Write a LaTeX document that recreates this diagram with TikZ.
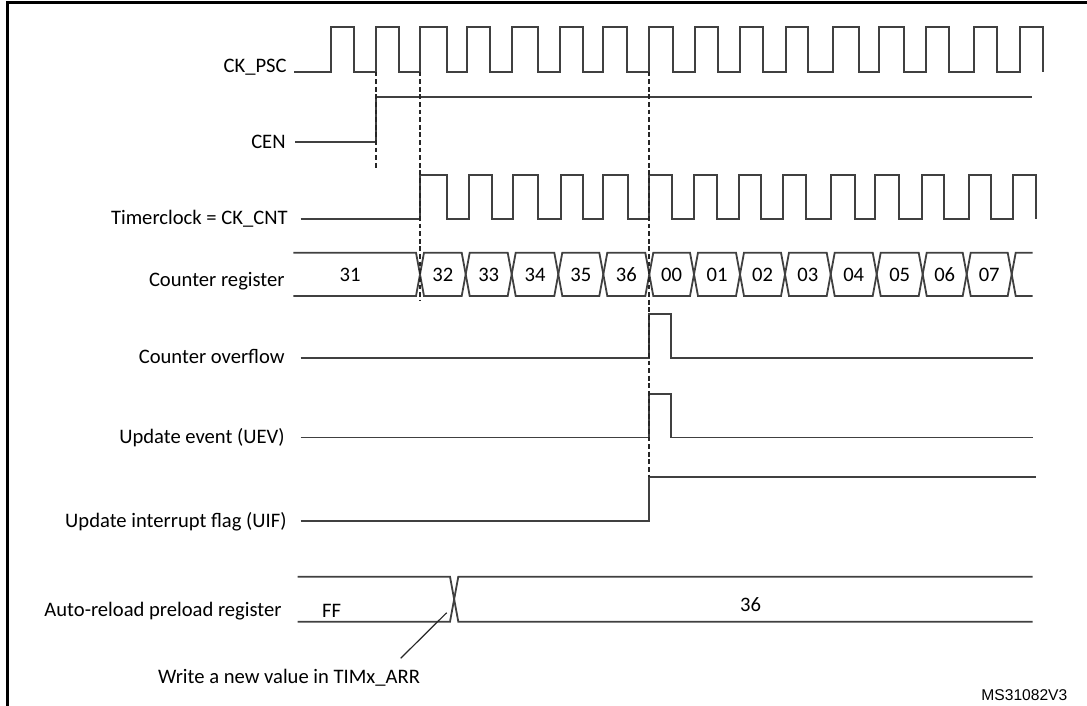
\documentclass[tikz,border=0pt]{standalone}
\usepackage{fontspec}
\setmainfont{Carlito}
\newfontfamily\arialfont{Liberation Sans}
\usetikzlibrary{positioning}

\begin{document}
\begin{tikzpicture}[x=0.5pt, y=-0.5pt,
        sig/.style={draw=black!75, line width=0.9pt},
        lbl/.style={anchor=base east, inner sep=0pt, font=\fontsize{10.3}{12}\selectfont},
        val/.style={anchor=base, inner sep=0pt, font=\fontsize{10.3}{12}\selectfont},
        guide/.style={draw=black!85, line width=1pt, dash pattern=on 2.4pt off 1.4pt}]
    \useasboundingbox (0,0) rectangle (1087,706);
    \draw[line width=1.5pt] (7,706) -- (7,3) -- (1087,3);

    \node[lbl] (ckpsc) at (287,72.7) {CK\_PSC};
    \node[lbl] (cen) at (286,148.3) {CEN};
    \node[lbl] (ckcnt) at (288,224.5) {Timerclock = CK\_CNT};
    \node[lbl] (cntreg) at (285,286.7) {Counter register};
    \node[lbl] (ovf) at (285,363.3) {Counter overflow};
    \node[lbl] (uev) at (285,443.3) {Update event (UEV)};
    \node[lbl] (uif) at (287,527) {Update interrupt flag (UIF)};
    \node[lbl] (arr) at (282,616.7) {Auto-reload preload register};

    % prescaler clock
    \draw[sig] (294,71.7) \foreach \r/\f in {330.7/354, 376/399, 420/446.7, 466.7/490, 511.7/538.3, 560/583.3, 602.7/627.3, 649.3/672.7, 695/718.3, 740/763.3, 785.7/808.3, 833.3/859, 879.3/904.3, 926/949.3, 974.3/997.3, 1020/1042.7} { -- (\r,71.7) -- (\r,27.3) -- (\f,27.3) -- (\f,71.7)};
    \draw[sig] (295,141.7) -- (375.7,141.7) -- (375.7,96.7) -- (1031.7,96.7);

    % counter clock
    \draw[sig] (300.7,219) \foreach \r/\f in {420/446.7, 469.3/491.7, 513.3/538.3, 560.7/583.3, 602.7/628.3, 649.3/671.7, 694.3/716.7, 739/760.7, 783.3/805.7, 830.7/855, 875/899.3, 921.7/944, 969.3/991, 1012.7/1035.7} { -- (\r,219) -- (\r,175) -- (\f,175) -- (\f,219)};

    % counter register
    \draw[sig] (293.3,252.7) -- (416,252.7) -- (420,274.3) -- (416,296) -- (293.3,296);
    \node[val] (cnt31) at (350,281.7) {31};
    \foreach \a/\b/\v in {420/465.7/32, 465.7/511.7/33, 511.7/558.3/34, 558.3/603.3/35, 603.3/649.3/36, 649.3/694/00, 694/740/01, 740/785/02, 785/830.7/03, 830.7/876.7/04, 876.7/922.7/05, 922.7/966.7/06, 966.7/1011.7/07} {
        \draw[sig] (\a,274.3) -- (\a+4,252.7) -- (\b-4,252.7) -- (\b,274.3) -- (\b-4,296) -- (\a+4,296) -- cycle;
        \node[val] (cnt\v) at ({(\a+\b)/2},281.7) {\v};
    }
    \draw[sig] (1032.7,252.7) -- (1015.7,252.7) -- (1011.7,274.3) -- (1015.7,296) -- (1032.7,296);

    % overflow, update event, flag
    \draw[sig] (300.7,358) -- (649.3,358) -- (649.3,314.3) -- (670.7,314.3) -- (670.7,358) -- (1033,358);
    \draw[sig] (300.7,437.5) -- (649.3,437.5) -- (649.3,394.3) -- (670.7,394.3) -- (670.7,437.5) -- (1033,437.5);
    \draw[sig] (300.7,520.7) -- (649.3,520.7) -- (649.3,476.7) -- (1036,476.7);

    % auto-reload register
    \draw[sig] (297.7,576.7) -- (450,576.7) -- (458.3,621.7) -- (1032.7,621.7);
    \draw[sig] (297.7,621.7) -- (450,621.7) -- (458.3,576.7) -- (1032.7,576.7);
    \node[val] (ff) at (331.7,617) {FF};
    \node[val] (arr36) at (750.5,611) {36};

    \draw[guide] (375.7,71.7) -- (375.7,170);
    \draw[guide] (420,71.7) -- (420,300);
    \draw[guide] (649.3,71.7) -- (649.3,476.7);

    \node[val] (write) at (289,683.3) {Write a new value in TIMx\_ARR};
    \coordinate (wtail) at (400.7,658.3);
    \coordinate (wtip) at (446.7,612.7);
    \draw[black!85, line width=0.6pt] (wtail) -- (wtip);

    \node[anchor=base east, inner sep=0pt, font=\arialfont\fontsize{7.8}{9}\selectfont] (ms) at (1067.7,700) {MS31082V3};
\end{tikzpicture}
\end{document}
